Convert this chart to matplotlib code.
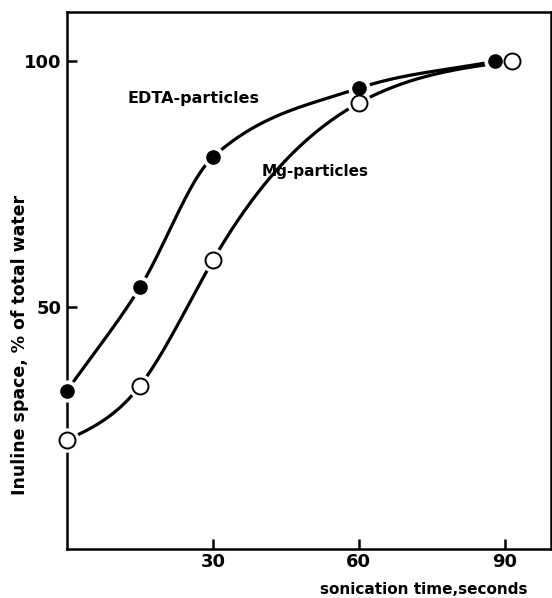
import numpy as np
import matplotlib.pyplot as plt
from matplotlib import rcParams
rcParams['font.family'] = 'DejaVu Sans'

# sonication time (s) and inuline space (% of total water)
edta_t = [0, 15, 30, 60, 88]
edta_y = [33, 54, 80.5, 94.5, 100]
mg_t = [0, 15, 30, 60, 91.5]
mg_y = [23, 34, 59.5, 91.5, 100]

xticks = [30, 60, 90]
yticks = [50, 100]


def hermite(x, y, m, n=400):
    h = np.diff(x)
    xs = np.linspace(x[0], x[-1], n)
    k = np.clip(np.searchsorted(x, xs) - 1, 0, len(x) - 2)
    t = (xs - x[k]) / h[k]
    ys = (2*t**3 - 3*t**2 + 1)*y[k] + (t**3 - 2*t**2 + t)*h[k]*m[k] \
        + (-2*t**3 + 3*t**2)*y[k+1] + (t**3 - t**2)*h[k]*m[k+1]
    return xs, ys


def catmull(x, y):
    x = np.asarray(x, float)
    y = np.asarray(y, float)
    d = np.diff(y) / np.diff(x)
    m = np.empty_like(y)
    m[1:-1] = (y[2:] - y[:-2]) / (x[2:] - x[:-2])
    m[0] = d[0]
    m[-1] = d[-1]
    return hermite(x, y, m)


def natural(x, y):
    # natural cubic spline, written as hermite slopes
    x = np.asarray(x, float)
    y = np.asarray(y, float)
    N = len(x)
    h = np.diff(x)
    d = np.diff(y) / h
    A = np.zeros((N, N))
    b = np.zeros(N)
    A[0, 0], A[0, 1], b[0] = 2, 1, 3*d[0]
    A[-1, -2], A[-1, -1], b[-1] = 1, 2, 3*d[-1]
    for i in range(1, N - 1):
        A[i, i-1] = h[i]
        A[i, i] = 2*(h[i-1] + h[i])
        A[i, i+1] = h[i-1]
        b[i] = 3*(h[i]*d[i-1] + h[i-1]*d[i])
    m = np.linalg.solve(A, b)
    return hermite(x, y, m)


fig = plt.figure(figsize=(5.52, 5.98), dpi=100)
ax = fig.add_axes([0.1214, 0.0819, 0.8766, 0.898])

xs, ys = catmull(edta_t, edta_y)
ax.plot(xs, ys, color='black', lw=2.3, solid_capstyle='butt', zorder=2)
xs, ys = natural(mg_t, mg_y)
ax.plot(xs, ys, color='black', lw=2.3, solid_capstyle='butt', zorder=2)

# white halos make the little gaps where the line meets a marker
ax.plot(edta_t, edta_y, 'o', ms=15, color='white', zorder=3, clip_on=False)
ax.plot(mg_t, mg_y, 'o', ms=16.5, color='white', zorder=3, clip_on=False)
ax.plot(edta_t, edta_y, 'o', ms=9.5, color='black', zorder=4, clip_on=False)
ax.plot(mg_t, mg_y, 'o', ms=11.5, mfc='white', mec='black', mew=1.4,
        zorder=5, clip_on=False)

ax.set_xlim(0, 99.5)
ax.set_ylim(0.8, 110)
ax.set_xticks(xticks)
ax.set_yticks(yticks)
ax.set_xticklabels([str(v) for v in xticks], fontsize=13, fontweight='bold')
ax.set_yticklabels([str(v) for v in yticks], fontsize=13, fontweight='bold')
ax.tick_params(direction='in', length=7, width=1.8, pad=4)
ax.tick_params(axis='x', pad=3)
for s in ax.spines.values():
    s.set_linewidth(1.8)

ax.text(26, 92.5, 'EDTA-particles', fontsize=11.5, fontweight='bold',
        ha='center', va='center')
ax.text(51, 77.5, 'Mg-particles', fontsize=11, fontweight='bold',
        ha='center', va='center')

fig.text(0.768, 0.0134, 'sonication time,seconds', fontsize=11,
         fontweight='bold', ha='center', va='center')
fig.text(0.036, 0.423, 'Inuline space, % of total water', fontsize=12.5,
         fontweight='bold', ha='center', va='center', rotation=90)

fig.savefig('out.png', dpi=100)
